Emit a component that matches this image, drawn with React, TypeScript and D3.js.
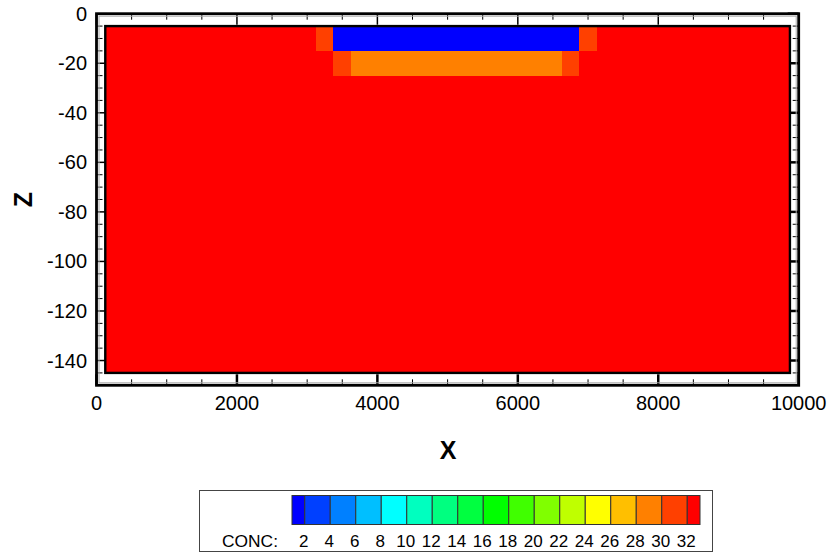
import React from "react";
import * as d3 from "d3";

// Grid nodes (cell-centred model grid): x in metres, z in metres
const xNodes = [125, 375, 625, 875, 1125, 1375, 1625, 1875, 2125, 2375, 2625, 2875, 3125, 3375, 3625, 3875, 4125, 4375, 4625, 4875, 5125, 5375, 5625, 5875, 6125, 6375, 6625, 6875, 7125, 7375, 7625, 7875, 8125, 8375, 8625, 8875, 9125, 9375, 9625, 9875];
const zNodes = [-5, -15, -25, -35, -45, -55, -65, -75, -85, -95, -105, -115, -125, -135, -145];

// Concentration per cell (rows top->bottom, columns left->right)
const R = 33;
const concRow1 = [R, R, R, R, R, R, R, R, R, R, R, R, 31, 1, 1, 1, 1, 1, 1, 1, 1, 1, 1, 1, 1, 1, 1, 31, R, R, R, R, R, R, R, R, R, R, R];
const concRow2 = [R, R, R, R, R, R, R, R, R, R, R, R, R, 31, 29, 29, 29, 29, 29, 29, 29, 29, 29, 29, 29, 29, 31, R, R, R, R, R, R, R, R, R, R, R, R];
const concRowDeep = [R, R, R, R, R, R, R, R, R, R, R, R, R, R, R, R, R, R, R, R, R, R, R, R, R, R, R, R, R, R, R, R, R, R, R, R, R, R, R];
const concRows = [concRow1, concRow2, concRowDeep, concRowDeep, concRowDeep, concRowDeep, concRowDeep, concRowDeep, concRowDeep, concRowDeep, concRowDeep, concRowDeep, concRowDeep, concRowDeep];

// Contour levels & colours
const levels = [2, 4, 6, 8, 10, 12, 14, 16, 18, 20, 22, 24, 26, 28, 30, 32];
const levelColors = ["#0000ff", "#0040ff", "#0080ff", "#00bfff", "#00ffff", "#00ffbf", "#00ff80", "#00ff40", "#00ff00", "#40ff00", "#80ff00", "#bfff00", "#ffff00", "#ffbf00", "#ff8000", "#ff4000", "#ff0000"];
const legendMin = 1;
const legendMax = 33;

const xTicks = [0, 2000, 4000, 6000, 8000, 10000];
const zTicks = [0, -20, -40, -60, -80, -100, -120, -140];

const FONT = "'Liberation Sans', Arial, sans-serif";

export default function App() {
  const x = d3.scaleLinear().domain([0, 10000]).range([96.5, 798.7]);
  const y = d3.scaleLinear().domain([0, -150]).range([13.7, 385.3]);
  const color = d3.scaleThreshold<number, string>().domain(levels).range(levelColors);

  const xMinor = d3.range(0, 10001, 500).filter((v) => v % 2000 !== 0);
  const zMinor = d3.range(0, -151, -5).filter((v) => v % 20 !== 0);

  const [x0, x1] = x.range();
  const [y0, y1] = y.range();

  const cells: JSX.Element[] = [];
  concRows.forEach((row, j) => {
    row.forEach((v, i) => {
      const cx0 = x(xNodes[i]);
      const cx1 = x(xNodes[i + 1]);
      const cy0 = y(zNodes[j]);
      const cy1 = y(zNodes[j + 1]);
      cells.push(
        <rect key={`${i}-${j}`} x={cx0} y={cy0} width={cx1 - cx0} height={cy1 - cy0} fill={color(v)} shapeRendering="crispEdges" />
      );
    });
  });

  const lx = d3.scaleLinear().domain([legendMin, legendMax]).range([292, 700]);
  const legendEdges = [legendMin, ...levels, legendMax];

  return (
    <svg width={831} height={554} style={{ position: "absolute", left: 0, top: 0, background: "#fff" }} fontFamily={FONT}>
      {/* ticks (drawn beneath the data) */}
      <g stroke="#000">
        {xTicks.map((t) => (
          <g key={`xt${t}`}>
            <line x1={x(t)} x2={x(t)} y1={y1} y2={y1 - 11} strokeWidth={2.5} />
            <line x1={x(t)} x2={x(t)} y1={y0} y2={y0 + 11} strokeWidth={1.5} />
          </g>
        ))}
        {xMinor.map((t) => (
          <g key={`xm${t}`}>
            <line x1={x(t)} x2={x(t)} y1={y1} y2={y1 - 6} strokeWidth={1} />
            <line x1={x(t)} x2={x(t)} y1={y0} y2={y0 + 6} strokeWidth={1} />
          </g>
        ))}
        {zTicks.map((t) => (
          <g key={`zt${t}`}>
            <line x1={x0} x2={x0 + 11} y1={y(t)} y2={y(t)} strokeWidth={1.5} />
            <line x1={x1} x2={x1 - 11} y1={y(t)} y2={y(t)} strokeWidth={2.5} />
          </g>
        ))}
        {zMinor.map((t) => (
          <g key={`zm${t}`}>
            <line x1={x0} x2={x0 + 6} y1={y(t)} y2={y(t)} strokeWidth={1} />
            <line x1={x1} x2={x1 - 6} y1={y(t)} y2={y(t)} strokeWidth={1} />
          </g>
        ))}
      </g>

      {/* data flood */}
      <g>{cells}</g>
      <rect
        x={x(xNodes[0])}
        y={y(zNodes[0])}
        width={x(xNodes[xNodes.length - 1]) - x(xNodes[0])}
        height={y(zNodes[zNodes.length - 1]) - y(zNodes[0])}
        fill="none"
        stroke="#000"
        strokeWidth={2.4}
      />

      {/* frame */}
      <rect x={x0 + 2.5} y={y0 + 2.5} width={x1 - x0 - 5} height={y1 - y0 - 5} fill="none" stroke="#aaa" strokeWidth={1} />
      <rect x={x0} y={y0} width={x1 - x0} height={y1 - y0} fill="none" stroke="#000" strokeWidth={2.8} />

      {/* tick labels */}
      <g fontSize={20} fill="#000">
        {xTicks.map((t) => (
          <text key={`xl${t}`} x={x(t)} y={410} textAnchor="middle">
            {t}
          </text>
        ))}
        {zTicks.map((t) => (
          <text key={`zl${t}`} x={87} y={y(t) + 7} textAnchor="end">
            {t}
          </text>
        ))}
      </g>

      {/* axis titles */}
      <text x={448} y={459} textAnchor="middle" fontSize={25} fontWeight="bold">
        X
      </text>
      <text transform="translate(32,199.5) rotate(-90)" textAnchor="middle" fontSize={25} fontWeight="bold">
        Z
      </text>

      {/* legend */}
      <rect x={199.5} y={490.5} width={513} height={61} fill="#fff" stroke="#444" strokeWidth={1} />
      {levelColors.map((c, i) => (
        <rect
          key={`lg${i}`}
          x={lx(legendEdges[i])}
          y={495.5}
          width={lx(legendEdges[i + 1]) - lx(legendEdges[i])}
          height={29}
          fill={c}
          stroke="#333"
          strokeWidth={1}
        />
      ))}
      <text x={222} y={547} fontSize={17} textLength={56} lengthAdjust="spacingAndGlyphs">
        CONC:
      </text>
      {levels.map((l) => (
        <text key={`ll${l}`} x={lx(l) - 1} y={547} fontSize={17} textAnchor="middle">
          {l}
        </text>
      ))}
    </svg>
  );
}
